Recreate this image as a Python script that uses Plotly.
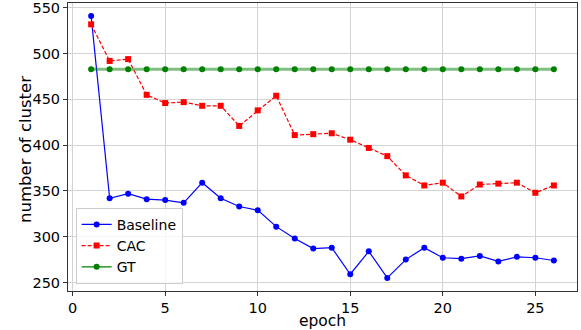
import plotly.graph_objects as go

epochs = list(range(1, 27))
baseline = [541, 342, 347, 341, 340, 337, 359, 342, 333, 329, 311, 298, 287, 288,
            259, 284, 255, 275, 288, 277, 276, 279, 273, 278, 277, 274]
cac = [532, 492, 494, 455, 446, 447, 443, 443, 421, 438, 454, 411, 412, 413,
       406, 397, 388, 367, 356, 359, 344, 357, 358, 359, 348, 356]
gt = [483] * 26

x_ticks = [0, 5, 10, 15, 20, 25]
y_ticks = [250, 300, 350, 400, 450, 500, 550]

fig = go.Figure()
fig.add_trace(go.Scatter(x=epochs, y=baseline, name="Baseline", mode="lines+markers",
                         line=dict(color="blue", width=1.2),
                         marker=dict(symbol="circle", size=6, color="blue")))
fig.add_trace(go.Scatter(x=epochs, y=cac, name="CAC", mode="lines+markers",
                         line=dict(color="red", width=1.2, dash="4px,2px"),
                         marker=dict(symbol="square", size=6, color="red")))
fig.add_trace(go.Scatter(x=epochs, y=gt, name="GT", mode="lines+markers", showlegend=False,
                         line=dict(color="rgba(0,128,0,0.5)", width=3),
                         marker=dict(symbol="circle", size=6, color="green")))
# legend entry for GT (empty trace)
fig.add_trace(go.Scatter(x=[None], y=[None], name="GT", mode="lines+markers",
                         line=dict(color="green", width=1.2),
                         marker=dict(symbol="circle", size=6, color="green")))

axis_common = dict(showline=True, linecolor="#333", linewidth=1, mirror=True,
                   showgrid=True, gridcolor="#d3d3d3", gridwidth=1,
                   ticks="outside", ticklen=4, tickcolor="#333", automargin=False,
                   ticklabeloverflow="allow",
                   tickfont=dict(size=14.5, color="black"), zeroline=False)

fig.update_layout(
    width=581, height=330,
    margin=dict(l=68, r=4, t=3, b=39),
    paper_bgcolor="white", plot_bgcolor="white",
    font=dict(family="DejaVu Sans", size=14, color="black"),
    xaxis=dict(range=[-0.25, 27.25], tickvals=x_ticks,
               title=dict(text="epoch", font=dict(size=15.5), standoff=4), **axis_common),
    yaxis=dict(range=[240.7, 555.3], tickvals=y_ticks, **axis_common),
    legend=dict(x=0.015, y=0.025, xanchor="left", yanchor="bottom",
                bgcolor="rgba(255,255,255,0.8)", bordercolor="#cccccc", borderwidth=1,
                font=dict(size=14), tracegroupgap=0, itemwidth=30),
    showlegend=True,
    annotations=[dict(text="number of cluster", textangle=-90, showarrow=False,
                      xref="paper", yref="paper", x=0, y=0.49,
                      xanchor="center", yanchor="middle", xshift=-42,
                      font=dict(size=16.5, color="black"))],
)

fig.write_html("out.html", config={"displayModeBar": False},
               post_script="document.body.style.margin='0';document.body.style.padding='0';")
